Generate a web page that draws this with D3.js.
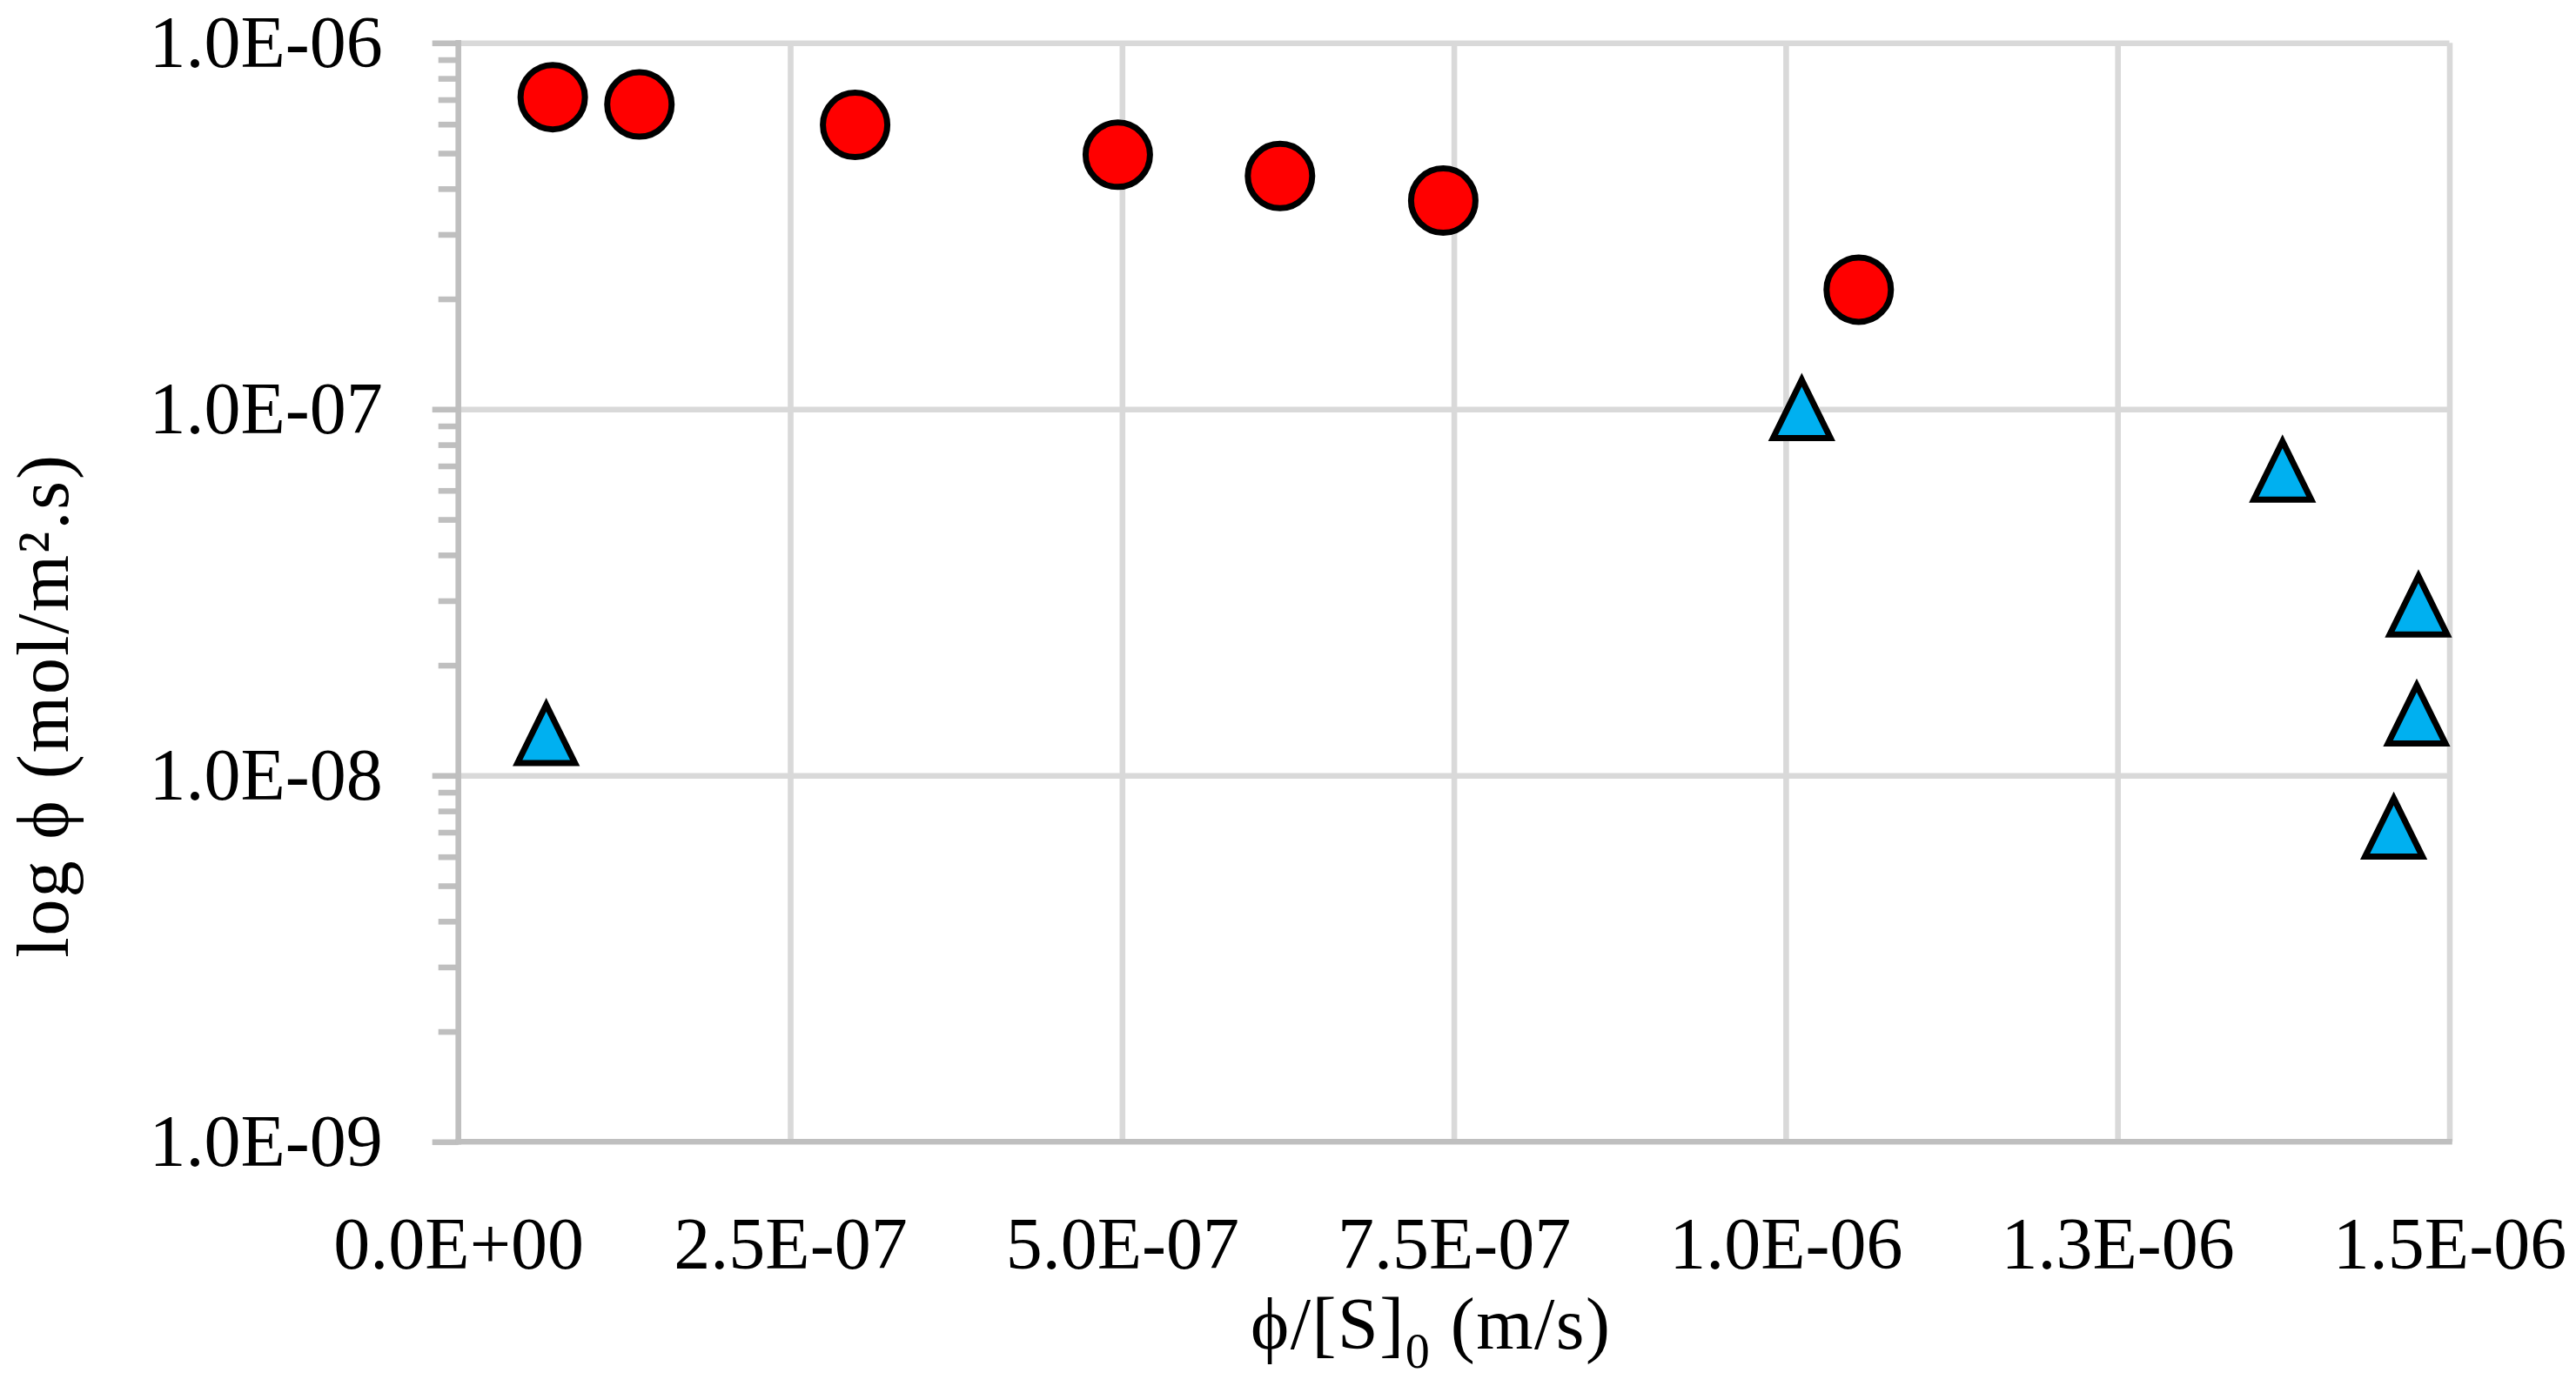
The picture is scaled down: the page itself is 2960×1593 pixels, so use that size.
<!DOCTYPE html>
<html>
<head>
<meta charset="utf-8">
<script src="https://cdn.jsdelivr.net/npm/d3@7"></script>
<style>
  html, body { margin: 0; padding: 0; background: #ffffff; }
  svg { display: block; }
</style>
</head>
<body>
<script>
// ---- data ----
const redX = [7.11e-8, 1.364e-7, 2.989e-7, 4.968e-7, 6.19e-7, 7.42e-7, 1.055e-6];
const redY = [7.11e-7, 6.79e-7, 5.97e-7, 4.95e-7, 4.33e-7, 3.71e-7, 2.12e-7];
const blueX = [6.62e-8, 1.0121e-6, 1.3743e-6, 1.4767e-6, 1.4754e-6, 1.4581e-6];
const blueY = [1.31e-8, 1.01e-7, 6.86e-8, 2.94e-8, 1.48e-8, 7.27e-9];

const xTickValues = [0, 2.5e-7, 5e-7, 7.5e-7, 1e-6, 1.25e-6, 1.5e-6];
const xTickLabels = ["0.0E+00", "2.5E-07", "5.0E-07", "7.5E-07", "1.0E-06", "1.3E-06", "1.5E-06"];
const yTickValues = [1e-6, 1e-7, 1e-8, 1e-9];
const yTickLabels = ["1.0E-06", "1.0E-07", "1.0E-08", "1.0E-09"];

const xTitle = ["ϕ/[S]", "0", " (m/s)"];
const yTitle = "log ϕ (mol/m².s)";

// ---- layout ----
const W = 2960, H = 1593;
const plot = { left: 526.7, right: 2814.5, top: 49.3, bottom: 1312.3 };
const FONT = "'Liberation Serif', 'Times New Roman', serif";
const gridColor = "#d9d9d9", axisColor = "#bfbfbf", lineW = 6.6;

const svg = d3.select("body").append("svg").attr("width", W).attr("height", H);

const x = d3.scaleLinear().domain([0, 1.5e-6]).range([plot.left, plot.right]);
const y = d3.scaleLog().domain([1e-9, 1e-6]).range([plot.bottom, plot.top]);

// minor tick values 2..9 x 10^n
const minorY = [];
[-9, -8, -7].forEach(e => { for (let m = 2; m <= 9; m++) minorY.push(m * Math.pow(10, e)); });

// ---- gridlines ----
const gx = svg.append("g").attr("transform", `translate(0,${plot.bottom})`)
  .call(d3.axisBottom(x).tickValues(xTickValues.slice(1)).tickSize(-(plot.bottom - plot.top)).tickFormat(""));
gx.select(".domain").remove();
gx.selectAll(".tick line").attr("stroke", gridColor).attr("stroke-width", lineW);

const gy = svg.append("g").attr("transform", `translate(${plot.left},0)`)
  .call(d3.axisLeft(y).tickValues(yTickValues.slice(0, 3)).tickSize(-(plot.right - plot.left)).tickFormat(""));
gy.select(".domain").remove();
gy.selectAll(".tick line").attr("stroke", gridColor).attr("stroke-width", lineW);

// ---- minor ticks on y axis ----
const my = svg.append("g").attr("transform", `translate(${plot.left},0)`)
  .call(d3.axisLeft(y).tickValues(minorY).tickSize(23).tickFormat(""));
my.select(".domain").remove();
my.selectAll(".tick line").attr("stroke", axisColor).attr("stroke-width", lineW);

// ---- y axis (major ticks + labels) ----
const ay = svg.append("g").attr("transform", `translate(${plot.left},0)`)
  .call(d3.axisLeft(y).tickValues(yTickValues).tickSize(30).tickPadding(57)
    .tickFormat((d, i) => yTickLabels[i]));
ay.select(".domain").remove();
ay.selectAll(".tick line").attr("stroke", axisColor).attr("stroke-width", lineW);
ay.selectAll(".tick text").attr("font-family", FONT).attr("font-size", 84).attr("fill", "#000");
svg.append("line")
  .attr("x1", plot.left).attr("x2", plot.left)
  .attr("y1", plot.top - lineW / 2).attr("y2", plot.bottom + lineW / 2)
  .attr("stroke", axisColor).attr("stroke-width", lineW);

// ---- x axis ----
const ax = svg.append("g").attr("transform", `translate(0,${plot.bottom})`)
  .call(d3.axisBottom(x).tickValues(xTickValues).tickSize(0).tickPadding(86)
    .tickFormat((d, i) => xTickLabels[i]));
ax.select(".domain").remove();
ax.selectAll(".tick text").attr("font-family", FONT).attr("font-size", 84).attr("fill", "#000");
svg.append("line")
  .attr("x1", plot.left - lineW / 2).attr("x2", plot.right + lineW / 2)
  .attr("y1", plot.bottom).attr("y2", plot.bottom)
  .attr("stroke", axisColor).attr("stroke-width", lineW);

// ---- axis titles ----
const xt = svg.append("text")
  .attr("x", 1437).attr("y", 1550)
  .attr("font-family", FONT).attr("font-size", 84).attr("letter-spacing", 1.5)
  .attr("fill", "#000");
xt.append("tspan").text(xTitle[0]);
xt.append("tspan").attr("font-size", 56).attr("dy", 22).text(xTitle[1]);
xt.append("tspan").attr("dy", -22).text(xTitle[2]);

svg.append("text")
  .attr("transform", "translate(78,811) rotate(-90)")
  .attr("text-anchor", "middle")
  .attr("font-family", FONT).attr("font-size", 84).attr("letter-spacing", 2)
  .attr("fill", "#000")
  .text(yTitle);

// ---- markers ----
const redPts = redX.map((v, i) => ({ x: v, y: redY[i] }));
const bluePts = blueX.map((v, i) => ({ x: v, y: blueY[i] }));

svg.append("g").selectAll("circle").data(redPts).join("circle")
  .attr("cx", d => x(d.x)).attr("cy", d => y(d.y)).attr("r", 37)
  .attr("fill", "#ff0000").attr("stroke", "#000").attr("stroke-width", 7);

const tri = "M0,-32 L33,35 L-33,35 Z";
svg.append("g").selectAll("path").data(bluePts).join("path")
  .attr("transform", d => `translate(${x(d.x)},${y(d.y)})`)
  .attr("d", tri)
  .attr("fill", "#00b0f0").attr("stroke", "#000").attr("stroke-width", 7)
  .attr("stroke-linejoin", "miter");
</script>
</body>
</html>
